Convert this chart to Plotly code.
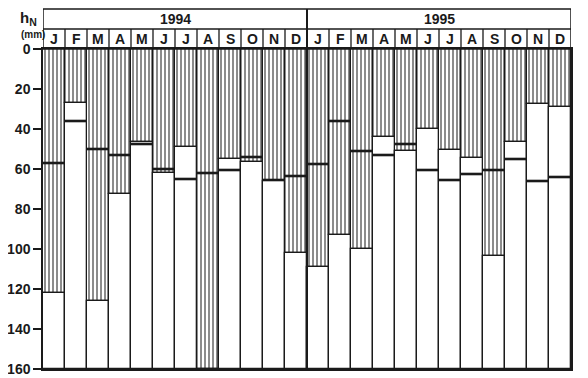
import plotly.graph_objects as go

months = ["J", "F", "M", "A", "M", "J", "J", "A", "S", "O", "N", "D"]
years = ["1994", "1995"]
# thick line value per month (mm)
line_1994 = [57, 36, 50, 53, 47.5, 60, 65, 62, 60.5, 54, 65.5, 63.5]
line_1995 = [57.5, 36, 51, 53, 47.5, 60.5, 65.5, 62.5, 60.5, 55, 66, 64]
# depth of hatched area per month (mm)
hatch_1994 = [122, 27, 126, 72.5, 46.5, 62, 49, 160, 55, 56.5, 66, 102]
hatch_1995 = [109, 93, 100, 44, 51, 40, 50.5, 54.5, 103.5, 46.5, 27.5, 29]
y_max = 160
y_ticks = [0, 20, 40, 60, 80, 100, 120, 140, 160]

labels = months * len(years)
line_vals = line_1994 + line_1995
hatch_vals = hatch_1994 + hatch_1995
n = len(labels)
xs = list(range(n))
ink = "#1a1a1a"
font = "Liberation Sans"

fig = go.Figure()
fig.add_trace(go.Bar(
    x=xs, y=hatch_vals, base=[0] * n, width=1,
    marker=dict(color="white", line=dict(color=ink, width=1.3),
                pattern=dict(shape="|", fgcolor=ink, bgcolor="white", size=4, solidity=0.5)),
    showlegend=False, hoverinfo="skip"))
fig.add_trace(go.Bar(
    x=xs, y=[y_max - h for h in hatch_vals], base=hatch_vals, width=1,
    marker=dict(color="white", line=dict(color=ink, width=1.3)),
    showlegend=False, hoverinfo="skip"))

lx, ly = [], []
for i, v in enumerate(line_vals):
    lx += [i - 0.5, i + 0.5, None]
    ly += [v, v, None]
fig.add_trace(go.Scatter(x=lx, y=ly, mode="lines", line=dict(color=ink, width=2.6),
                         showlegend=False, hoverinfo="skip"))

shapes = []
top_m = 1 + 20 / 320
top_y = 1 + 40 / 320
shapes.append(dict(type="rect", xref="x", yref="paper", x0=-0.5, x1=n - 0.5, y0=1, y1=top_y,
                   line=dict(color=ink, width=1.5)))
shapes.append(dict(type="line", xref="x", yref="paper", x0=-0.5, x1=n - 0.5, y0=top_m, y1=top_m,
                   line=dict(color=ink, width=1.5)))
for i in range(n - 1):
    shapes.append(dict(type="line", xref="x", yref="paper", x0=i + 0.5, x1=i + 0.5, y0=1, y1=top_m,
                       line=dict(color=ink, width=1.3)))
for k in range(1, len(years)):
    xb = k * len(months) - 0.5
    shapes.append(dict(type="line", xref="x", yref="paper", x0=xb, x1=xb, y0=0, y1=top_y,
                       line=dict(color=ink, width=2)))

ann = []
for i, m in enumerate(labels):
    ann.append(dict(x=i, y=(1 + top_m) / 2, xref="x", yref="paper", text=m, showarrow=False,
                    font=dict(family=font, size=14, color=ink, weight="bold"), yanchor="middle"))
for k, yr in enumerate(years):
    ann.append(dict(x=k * len(months) + (len(months) - 1) / 2, y=(top_m + top_y) / 2, xref="x", yref="paper",
                    text=yr, showarrow=False, font=dict(family=font, size=14, color=ink, weight="bold"),
                    yanchor="middle"))
ann.append(dict(x=-0.048, y=1.095, xref="paper", yref="paper", text="h<sub>N</sub>", showarrow=False,
                font=dict(family=font, size=15, color=ink, weight="bold"), yanchor="middle"))
ann.append(dict(x=-0.045, y=1.045, xref="paper", yref="paper", text="(mm)", showarrow=False,
                font=dict(family=font, size=10, color=ink, weight="bold"), yanchor="middle"))

fig.update_layout(
    width=580, height=370,
    margin=dict(l=35, r=17, t=41, b=9),
    paper_bgcolor="white", plot_bgcolor="white",
    barmode="overlay", bargap=0,
    shapes=shapes, annotations=ann,
    xaxis=dict(range=[-0.5, n - 0.5], showticklabels=False, ticks="", showgrid=False, zeroline=False,
               showline=True, linecolor=ink, linewidth=1.5, mirror=True, automargin=False),
    yaxis=dict(range=[y_max, 0], tickvals=y_ticks, ticks="outside", ticklen=8, tickwidth=1.6,
               tickcolor=ink, showgrid=False, zeroline=False, showline=True, linecolor=ink,
               linewidth=1.5, mirror=True, automargin=False,
               tickfont=dict(family=font, size=14, color=ink, weight="bold")),
)
fig.write_html("out.html")
